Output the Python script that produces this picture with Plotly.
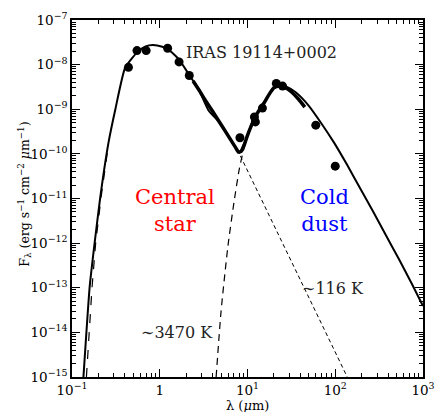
import plotly.graph_objects as go

# Photometry (filled circles)
phot_wl = [0.44, 0.55, 0.70, 1.23, 1.66, 2.17, 8.2, 12.0, 12.3, 14.8, 21.3, 25.1, 60, 100]
phot_f = [8.7e-9, 2.06e-8, 2.06e-8, 2.33e-8, 1.15e-8, 5.7e-9, 2.3e-10, 6.7e-10, 5.2e-10,
          1.06e-9, 3.8e-9, 3.3e-9, 4.4e-10, 5.3e-11]

# Total model (thin solid)
model_wl = [0.135, 0.159, 0.181, 0.21, 0.26, 0.313, 0.404, 0.56, 0.69, 0.83, 1.07, 1.27,
            1.67, 2.15, 2.8, 3.6, 4.8, 6.5, 8.05, 9.55, 11.8, 15.2, 20.0, 23.0, 27.0,
            35.4, 49.7, 69.6, 97.7, 137, 192, 269, 378, 531, 743, 1000]
model_f = [1e-15, 1.05e-13, 1.0e-12, 1.07e-11, 1.74e-10, 1.03e-9, 8.6e-9, 1.93e-8, 2.55e-8,
           2.75e-8, 2.52e-8, 2.14e-8, 1.28e-8, 6.0e-9, 2.7e-9, 9.4e-10, 5.1e-10, 2.0e-10,
           1.05e-10, 2.06e-10, 6.2e-10, 1.32e-9, 3.2e-9, 3.55e-9, 3.3e-9, 2.4e-9, 1.21e-9,
           4.8e-10, 1.74e-10, 5.6e-11, 1.7e-11, 5.2e-12, 1.5e-12, 4.4e-13, 1.25e-13, 3.9e-14]

# Observed spectrum (thick solid)
obs_wl = [2.4, 2.8, 3.3, 4.0, 4.8, 5.6, 6.5, 7.3, 7.9, 8.5, 9.2, 10, 11, 12.3, 13.8, 15.5,
          17.5, 20, 23, 27, 32, 38, 45]
obs_f = [4.3e-9, 2.7e-9, 1.6e-9, 9e-10, 5.1e-10, 3.2e-10, 2.0e-10, 1.4e-10, 1.1e-10,
         1.15e-10, 1.6e-10, 2.6e-10, 4.2e-10, 6.8e-10, 1.0e-9, 1.4e-9, 2.1e-9, 3.0e-9,
         3.3e-9, 3.05e-9, 2.4e-9, 1.7e-9, 1.12e-9]

# Central star blackbody (dashed): Wien side and Rayleigh-Jeans tail
star_wien_wl = [0.146, 0.169, 0.186, 0.215, 0.26]
star_wien_f = [1e-15, 1e-13, 1e-12, 1.1e-11, 1.6e-10]
star_rj_wl = [8.3, 26.4, 137]
star_rj_f = [9e-11, 7.9e-13, 1e-15]

# Cold dust blackbody (dashed), Wien side
dust_wl = [4.39, 5.0, 5.98, 7.0, 8.05, 9.0, 10.0]
dust_f = [1e-15, 3e-14, 8.5e-13, 8e-12, 4.5e-11, 1.2e-10, 2.4e-10]

x_tickvals = [0.1, 1, 10, 100, 1000]
x_ticktext = ["10<sup>−1</sup>", "1", "10<sup>1</sup>", "10<sup>2</sup>", "10<sup>3</sup>"]
y_exps = [-15, -14, -13, -12, -11, -10, -9, -8, -7]
y_tickvals = [10.0 ** e for e in y_exps]
y_ticktext = ["10<sup>−%d</sup>" % (-e) for e in y_exps]

x_minor = [m * 10.0 ** k for k in range(-1, 3) for m in range(2, 10)]
y_minor = [m * 10.0 ** k for k in range(-15, -7) for m in range(2, 10)]

FONT = "DejaVu Serif"

fig = go.Figure()
fig.add_trace(go.Scatter(x=star_wien_wl, y=star_wien_f, mode="lines",
                         line=dict(color="black", width=1.2, dash="dash")))
fig.add_trace(go.Scatter(x=star_rj_wl, y=star_rj_f, mode="lines",
                         line=dict(color="black", width=1, dash="4px,3px")))
fig.add_trace(go.Scatter(x=dust_wl, y=dust_f, mode="lines",
                         line=dict(color="black", width=1.2, dash="7px,5px",
                                   shape="spline", smoothing=0.6)))
fig.add_trace(go.Scatter(x=obs_wl, y=obs_f, mode="lines",
                         line=dict(color="black", width=3.5, shape="spline", smoothing=0.5)))
fig.add_trace(go.Scatter(x=model_wl, y=model_f, mode="lines",
                         line=dict(color="black", width=2, shape="spline", smoothing=0.5)))
fig.add_trace(go.Scatter(x=phot_wl, y=phot_f, mode="markers",
                         marker=dict(color="black", size=9)))

axis_common = dict(
    type="log", showgrid=False, zeroline=False, showline=True, linecolor="black",
    linewidth=1.5, mirror="allticks", ticks="inside", ticklen=8, tickwidth=1.2,
    tickcolor="black", tickmode="array",
    tickfont=dict(family=FONT, size=13.5, color="black"),
)

fig.update_layout(
    width=445, height=412, margin=dict(l=72, r=10, t=14, b=35),
    paper_bgcolor="white", plot_bgcolor="white", showlegend=False,
    xaxis=dict(axis_common, range=[-1, 3], tickvals=x_tickvals, ticktext=x_ticktext,
               minor=dict(ticks="inside", ticklen=4, tickcolor="black", tickwidth=1,
                          tickmode="array", tickvals=x_minor, showgrid=False)),
    yaxis=dict(axis_common, range=[-15, -7], tickvals=y_tickvals, ticktext=y_ticktext,
               minor=dict(ticks="inside", ticklen=4, tickcolor="black", tickwidth=1,
                          tickmode="array", tickvals=y_minor, showgrid=False)),
)

def px_to_paper(px, py):
    return (px - 72) / 363.0, (377 - py) / 363.0

annots = [
    ("IRAS 19114+0002", 188, 46.7, "left", 16, "#222222"),
    ("∼3470 K", 141.7, 331.7, "left", 16, "#222222"),
    ("∼116 K", 308.3, 286.7, "left", 16, "#222222"),
    ("Central<br>star", 178.5, 208, "center", 21, "#ff0000"),
    ("Cold<br>dust", 333, 208, "center", 21, "#0000ff"),
]
for text, px, py, anchor, size, color in annots:
    ax, ay = px_to_paper(px, py)
    fig.add_annotation(text=text, x=ax, y=ay, xref="paper", yref="paper",
                       xanchor=anchor, yanchor="middle", showarrow=False,
                       font=dict(family=FONT, size=size, color=color))

# axis titles
ax, ay = px_to_paper(253.5, 405.5)
fig.add_annotation(text="λ (<i>μ</i>m)", x=ax, y=ay, xref="paper", yref="paper",
                   xanchor="center", yanchor="middle", showarrow=False,
                   font=dict(family=FONT, size=13, color="black"))
ax, ay = px_to_paper(23, 191)
fig.add_annotation(text="F<sub>λ</sub> (erg s<sup>−1</sup> cm<sup>−2</sup> <i>μ</i>m<sup>−1</sup>)",
                   x=ax, y=ay, xref="paper", yref="paper", textangle=-90,
                   xanchor="center", yanchor="middle", showarrow=False,
                   font=dict(family=FONT, size=12.5, color="black"))

fig.write_html("out.html")
